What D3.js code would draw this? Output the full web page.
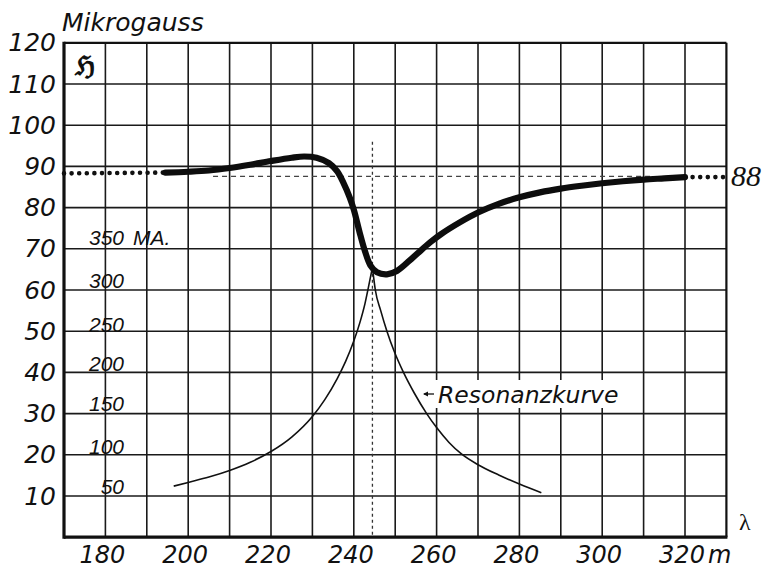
<!DOCTYPE html>
<html>
<head>
<meta charset="utf-8">
<script src="https://cdn.jsdelivr.net/npm/d3@7"></script>
<style>
  body { margin: 0; background: #fff; }
  svg { display: block; }
  .grid line { stroke: #1a1a1a; stroke-width: 1.6; }
  .ital { font-family: "DejaVu Sans", sans-serif; font-style: italic; fill: #111; }
  .ma { font-family: "Liberation Sans", sans-serif; font-style: italic; font-size: 21px; fill: #111; }
</style>
</head>
<body>
<svg id="chart" width="765" height="570"></svg>
<script>

// Feldstaerke (thick curve), wavelength in m -> Mikrogauss
var feldLambda = [194.5, 200, 205, 210, 215, 220, 225, 228, 231, 234, 236, 237.5, 239, 240, 241.4, 242.7, 244, 245.6, 248, 250.4, 254.4, 258.5, 261, 265.6, 270, 275, 280, 285, 290, 295, 300, 305, 310, 315, 320];
var feldWerte  = [88.5, 88.7, 89, 89.6, 90.4, 91.3, 92.1, 92.4, 92.1, 90.8, 88.8, 86, 82.5, 79.5, 74, 69.4, 66, 64.3, 63.8, 64.6, 68, 71.6, 73.5, 76.4, 78.8, 80.9, 82.5, 83.7, 84.6, 85.3, 85.9, 86.4, 86.8, 87.1, 87.4];

// dotted continuation left and right
var punktLinksLambda = [170, 194.5];
var punktLinksWerte = [88.3, 88.5];
var punktRechtsLambda = [320, 330];
var punktRechtsWerte = [87.4, 87.4];

// Resonanzkurve (thin)
var resonanzLambda = [196.5, 200, 205, 210, 215, 220, 225, 230, 233, 236, 238, 240, 241.5, 242.7, 243.6, 244.5, 245.2, 246.5, 248, 249.8, 252, 254.6, 257.6, 260, 263, 266, 270, 275, 280, 285.3];
var resonanzWerte  = [12.4, 13.3, 14.6, 16.2, 18.2, 20.8, 24.3, 29.3, 33.4, 38.5, 42.6, 47.6, 52.2, 56.7, 61, 65.5, 60, 55, 50, 45, 40, 35, 30, 26.6, 23, 20.2, 17.6, 15.1, 12.9, 10.8];

var niveau = 87.6;          // dashed "88" line
var resonanzStelle = 244.5; // dashed vertical

var xTicks = [180, 200, 220, 240, 260, 280, 300, 320];
var yTicks = [10, 20, 30, 40, 50, 60, 70, 80, 90, 100, 110, 120];
var maLabels = ["50", "100", "150", "200", "250", "300", "350"];
var maWerte = [12.2, 22, 32.4, 42, 51.6, 62.2, 72.7];

function drawChart() {
  var svg = d3.select("#chart");
  var pLeft = 64, pRight = 726.4, pTop = 42.8, pBottom = 537.2;

  var x = d3.scaleLinear().domain([170, 330]).range([pLeft, pRight]);
  var y = d3.scaleLinear().domain([0, 120]).range([pBottom, pTop]);

  svg.append("rect").attr("width", 765).attr("height", 570).attr("fill", "#fff");

  // grid
  var grid = svg.append("g").attr("class", "grid");
  grid.selectAll(".v").data(d3.range(180, 330, 10)).enter().append("line")
    .attr("x1", function (d) { return x(d); }).attr("x2", function (d) { return x(d); })
    .attr("y1", pTop).attr("y2", pBottom);
  grid.selectAll(".h").data(d3.range(10, 120, 10)).enter().append("line")
    .attr("x1", pLeft).attr("x2", pRight)
    .attr("y1", function (d) { return y(d); }).attr("y2", function (d) { return y(d); });

  // frame
  svg.append("line").attr("x1", pLeft).attr("x2", pRight).attr("y1", pTop).attr("y2", pTop).attr("stroke", "#111").attr("stroke-width", 2.2);
  svg.append("line").attr("x1", pRight).attr("x2", pRight).attr("y1", pTop).attr("y2", pBottom).attr("stroke", "#111").attr("stroke-width", 2.2);
  svg.append("line").attr("x1", pLeft).attr("x2", pLeft).attr("y1", pTop - 1).attr("y2", pBottom + 1.5).attr("stroke", "#111").attr("stroke-width", 3.2);
  svg.append("line").attr("x1", pLeft).attr("x2", pRight + 1).attr("y1", pBottom).attr("y2", pBottom).attr("stroke", "#111").attr("stroke-width", 3.2);

  // dashed helper lines
  svg.append("line")
    .attr("x1", x(206)).attr("x2", x(312))
    .attr("y1", y(niveau)).attr("y2", y(niveau))
    .attr("stroke", "#444").attr("stroke-width", 1.3).attr("stroke-dasharray", "5,4");
  svg.append("line")
    .attr("x1", x(resonanzStelle)).attr("x2", x(resonanzStelle))
    .attr("y1", y(96)).attr("y2", pBottom)
    .attr("stroke", "#333").attr("stroke-width", 1.3).attr("stroke-dasharray", "3,3");

  // resonance curve: two branches meeting in the peak
  var peak = d3.maxIndex(resonanzWerte);
  var resLine = d3.line()
    .x(function (d) { return x(resonanzLambda[d]); })
    .y(function (d) { return y(resonanzWerte[d]); })
    .curve(d3.curveMonotoneX);
  svg.append("path").attr("d", resLine(d3.range(0, peak + 1)))
    .attr("fill", "none").attr("stroke", "#111").attr("stroke-width", 1.6);
  svg.append("path").attr("d", resLine(d3.range(peak, resonanzWerte.length)))
    .attr("fill", "none").attr("stroke", "#111").attr("stroke-width", 1.6);

  // dotted ends
  function punkte(ls, vs) {
    svg.append("line")
      .attr("x1", x(ls[0])).attr("x2", x(ls[1]))
      .attr("y1", y(vs[0])).attr("y2", y(vs[1]))
      .attr("stroke", "#111").attr("stroke-width", 4.6)
      .attr("stroke-linecap", "round").attr("stroke-dasharray", "0,7.6");
  }
  punkte(punktLinksLambda, punktLinksWerte);
  punkte(punktRechtsLambda, punktRechtsWerte);

  // thick field curve
  var feldLine = d3.line()
    .x(function (d, i) { return x(feldLambda[i]); })
    .y(function (d) { return y(d); })
    .curve(d3.curveCatmullRom.alpha(0.5));
  svg.append("path").attr("d", feldLine(feldWerte))
    .attr("fill", "none").attr("stroke", "#0d0d0d").attr("stroke-width", 6.2)
    .attr("stroke-linecap", "round").attr("stroke-linejoin", "round");

  // y tick labels
  svg.selectAll(".ylab").data(yTicks).enter().append("text")
    .attr("class", "ital")
    .attr("x", 56).attr("y", function (d) { return y(d) + 8.5; })
    .attr("text-anchor", "end").attr("font-size", 25)
    .text(function (d) { return d; });

  // x tick labels
  svg.selectAll(".xlab").data(xTicks).enter().append("text")
    .attr("class", "ital")
    .attr("x", function (d) { return x(d) - 3; }).attr("y", 563)
    .attr("text-anchor", "middle").attr("font-size", 24)
    .text(function (d) { return d; });
  svg.append("text").attr("class", "ital").attr("x", 708).attr("y", 563).attr("font-size", 24).text("m");

  // MA scale
  svg.selectAll(".malab").data(maLabels).enter().append("text")
    .attr("class", "ma")
    .attr("x", 124).attr("y", function (d, i) { return y(maWerte[i]) + 7; })
    .attr("text-anchor", "end")
    .text(function (d) { return d; });
  svg.append("text").attr("class", "ma").attr("x", 133).attr("y", y(maWerte[6]) + 7).text("MA.");

  // titles and marks
  svg.append("text").attr("class", "ital").attr("x", 62).attr("y", 31).attr("font-size", 25).text("Mikrogauss");
  svg.append("text").attr("x", 75).attr("y", 75).attr("font-family", "DejaVu Serif, serif")
    .attr("font-weight", "bold").attr("font-size", 27).attr("fill", "#111").text("\u210C");
  svg.append("text").attr("x", 731).attr("y", y(niveau) + 10).attr("font-family", "Liberation Serif, serif")
    .attr("font-style", "italic").attr("font-size", 30).attr("fill", "#111").text("88");
  svg.append("text").attr("x", 739).attr("y", 530).attr("font-family", "Liberation Serif, serif")
    .attr("font-size", 24).attr("fill", "#111").text("\u03BB");

  // Resonanzkurve label with white box and small arrow
  var lab = svg.append("g");
  lab.append("rect").attr("x", 435).attr("y", 380).attr("width", 195).attr("height", 28).attr("fill", "#fff");
  lab.append("text").attr("class", "ital").attr("x", 438).attr("y", 403).attr("font-size", 23.5).text("Resonanzkurve");
  lab.append("line").attr("x1", 424).attr("x2", 434).attr("y1", 394).attr("y2", 394).attr("stroke", "#111").attr("stroke-width", 1.3);
  lab.append("path").attr("d", "M423,394 L428,391.5 L428,396.5 Z").attr("fill", "#111");
}

drawChart();

</script>
</body>
</html>
